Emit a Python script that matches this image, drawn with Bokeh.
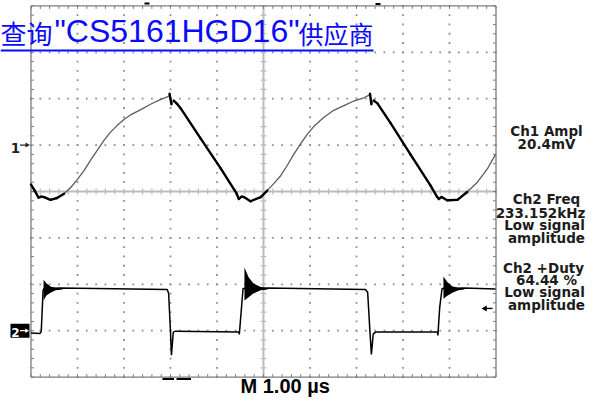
import numpy as np
from bokeh.plotting import figure
from bokeh.models import Range1d
from bokeh.core.properties import value
from bokeh.embed import file_html
from bokeh.resources import INLINE

# ---------------- data (time: µs from screen centre, amplitude: divisions) ----------------
ch1_t = [-5.00, -4.92, -4.84, -4.78, -4.72, -4.58, -4.44, -4.29, -4.15, -4.01,
         -3.86, -3.72, -3.58, -3.43, -3.29, -3.15, -3.00, -2.86, -2.65, -2.43,
         -2.22, -2.04, -2.02, -1.98, -1.93, -1.86, -1.78, -1.35, -0.92, -0.58,
         -0.53, -0.47, -0.42, -0.28, -0.06, 0.08, 0.22, 0.37, 0.51, 0.65,
         0.80, 0.94, 1.08, 1.30, 1.51, 1.73, 1.94, 2.16, 2.26, 2.29,
         2.32, 2.37, 2.45, 2.73, 3.16, 3.59, 3.73, 3.77, 3.83, 3.95,
         4.17, 4.38, 4.60, 4.81, 4.99]
ch1_v = [0.15, 0.02, -0.13, -0.11, -0.12, -0.18, -0.14, -0.05, 0.08, 0.25,
         0.45, 0.67, 0.88, 1.10, 1.28, 1.42, 1.55, 1.65, 1.76, 1.88,
         1.98, 2.05, 2.11, 1.88, 1.96, 1.89, 1.79, 1.14, 0.50, -0.04,
         -0.16, -0.11, -0.12, -0.21, -0.12, 0.02, 0.17, 0.34, 0.56, 0.80,
         1.03, 1.23, 1.40, 1.60, 1.75, 1.85, 1.95, 2.02, 2.07, 2.11,
         1.88, 1.96, 1.90, 1.48, 0.80, 0.13, -0.11, -0.16, -0.12, -0.19,
         -0.18, -0.01, 0.20, 0.48, 0.80]

ch2_t = [-5.00, -4.81, -4.78, -4.74, -4.72, -4.37, -2.07, -2.04, -2.00, -1.98,
         -1.94, -1.89, -0.53, -0.52, -0.44, 0.08, 2.19, 2.24, 2.29, 2.32,
         2.36, 2.41, 3.74, 3.75, 3.79, 3.84, 4.32, 4.99]
ch2_v = [-3.05, -3.06, -3.02, -2.13, -2.09, -2.08, -2.11, -2.20, -3.03, -3.53,
         -3.03, -3.01, -3.03, -3.08, -2.09, -2.08, -2.11, -2.17, -3.03, -3.51,
         -3.07, -3.03, -3.03, -3.10, -2.49, -2.09, -2.08, -2.10]

# ringing envelopes after each rising edge of Ch2
ring_t = [[-4.73, -4.67, -4.58, -4.47, -4.32],
          [-0.41, -0.32, -0.22, -0.06, 0.09],
          [3.87, 3.96, 4.06, 4.19, 4.32]]
ring_hi = [[-1.90, -1.98, -2.05, -2.08, -2.09],
           [-1.64, -1.85, -1.98, -2.06, -2.09],
           [-1.83, -1.96, -2.04, -2.08, -2.09]]
ring_lo = [[-2.35, -2.24, -2.18, -2.13, -2.11],
           [-2.35, -2.28, -2.20, -2.13, -2.11],
           [-2.31, -2.24, -2.18, -2.13, -2.11]]

ch1_ref = 1.0
ch2_ref = -3.0
trig_level = -2.52

meas_lines = ["Ch1 Ampl", "20.4mV",
              "Ch2 Freq", "233.152kHz", "Low signal", "amplitude",
              "Ch2 +Duty", "64.44 %", "Low signal", "amplitude"]
timebase_label = "M 1.00 \u00b5s"
title_parts = ["\u67e5\u8be2", "\"CS5161HGD16\"", "\u4f9b\u5e94\u5546"]

# ---------------- geometry helpers (picture pixel -> data) ----------------
PXX, PXY = 46.5, 46.4
CX, CY = 263.0, 191.0
W, H = 587, 397


def X(px):
    return (px - CX) / PXX


def Y(py):
    return (CY - py) / PXY


def B(py, size):
    # baseline position for a text of the given pixel size (renderer draws ~0.33em low)
    return Y(py - 0.33 * size)


p = figure(width=W, height=H, output_backend="svg", toolbar_location=None,
           x_range=Range1d(X(0), X(W)), y_range=Range1d(Y(H), Y(0)),
           min_border=0, x_axis_location=None, y_axis_location=None,
           background_fill_color="white", border_fill_color="white")
p.grid.visible = False
p.outline_line_color = None

# ---------------- graticule ----------------
gx = np.round(np.arange(-5, 5.0001, 0.2), 3)
gy = np.round(np.arange(-4, 4.0001, 0.2), 3)
tx, ty = 3.0 / PXX, 3.0 / PXY

dx, dy = [], []
for m in [-4, -3, -2, -1, 1, 2, 3, 4]:
    dx += [m] * len(gy)
    dy += list(gy)
for m in [-3, -2, -1, 1, 2, 3]:
    dx += list(gx)
    dy += [m] * len(gx)
p.scatter(dx, dy, marker="square", size=1.8, color="#8e8e8e", line_color=None)

cc = "#bcbcbc"
p.segment(x0=[-5, 0], y0=[0, -4], x1=[5, 0], y1=[0, 4], line_color=cc, line_width=2)
p.segment(x0=gx, y0=[-ty] * len(gx), x1=gx, y1=[ty] * len(gx), line_color=cc, line_width=1.2)
p.segment(x0=[-tx] * len(gy), y0=gy, x1=[tx] * len(gy), y1=gy, line_color=cc, line_width=1.2)

fc = "#7c7c7c"
p.segment(x0=[-5, 5, -5, -5], y0=[-4, -4, -4, 4], x1=[-5, 5, 5, 5], y1=[4, 4, -4, 4],
          line_color=fc, line_width=1.3)
n = len(gy)
p.segment(x0=[-5] * n, y0=gy, x1=[-5 + tx] * n, y1=gy, line_color=fc, line_width=1)
p.segment(x0=[5 - tx] * n, y0=gy, x1=[5] * n, y1=gy, line_color=fc, line_width=1)
m_ = len(gx)
p.segment(x0=gx, y0=[-4] * m_, x1=gx, y1=[-4 + ty] * m_, line_color=fc, line_width=1)
p.segment(x0=gx, y0=[4] * m_, x1=gx, y1=[4 - ty] * m_, line_color=fc, line_width=1)

# trigger-position marks on the top and bottom edges
p.segment(x0=[X(162), X(176), X(144), X(375)], y0=[Y(378.5), Y(378.5), Y(3), Y(3.5)],
          x1=[X(173.5), X(190.5), X(149), X(380)], y1=[Y(378.5), Y(378.5), Y(3), Y(3.5)],
          line_color="black", line_width=2.0)

# ---------------- traces ----------------
t1 = np.array(ch1_t)
v1 = np.array(ch1_v)
p.line(t1, v1, line_color="#5c5c5c", line_width=1.3)
dv = np.diff(v1)
thick = (dv < 0) | (np.minimum(v1[:-1], v1[1:]) < -0.1)
p.segment(x0=t1[:-1][thick], y0=v1[:-1][thick], x1=t1[1:][thick], y1=v1[1:][thick],
          line_color="black", line_width=2.4, line_cap="round")

p.line(ch2_t, ch2_v, line_color="black", line_width=1.5)
for rt, rh, rl in zip(ring_t, ring_hi, ring_lo):
    p.varea(x=rt, y1=rl, y2=rh, fill_color="black")

# ---------------- channel markers ----------------
p.text(x=[X(15)], y=[B(152, 13.5)], text=["1"], text_font=value("DejaVu Sans"),
       text_font_size="13.5px", text_font_style="bold", text_align="center",
       text_baseline="alphabetic", text_color="#222222")
p.segment(x0=[X(19.5)], y0=[ch1_ref], x1=[X(25.5)], y1=[ch1_ref], line_color="#222222", line_width=1.3)
p.scatter([X(26.5)], [ch1_ref], marker="triangle", angle=-np.pi / 2, size=5,
          color="#222222", line_color=None)

p.rect(x=[X(19.5)], y=[ch2_ref], width=19 / PXX, height=14 / PXY, fill_color="black", line_color=None)
p.text(x=[X(15)], y=[B(335.5, 12)], text=["2"], text_font=value("DejaVu Sans"),
       text_font_size="12px", text_font_style="bold", text_align="center",
       text_baseline="alphabetic", text_color="white")
p.segment(x0=[X(19.5)], y0=[ch2_ref], x1=[X(25)], y1=[ch2_ref], line_color="white", line_width=1.3)
p.scatter([X(26)], [ch2_ref], marker="triangle", angle=-np.pi / 2, size=4.5,
          color="white", line_color=None)

p.segment(x0=[X(485)], y0=[trig_level], x1=[X(492)], y1=[trig_level], line_color="black", line_width=1.3)
p.scatter([X(484.5)], [trig_level], marker="triangle", angle=np.pi / 2, size=6,
          color="black", line_color=None)

# ---------------- measurement readouts ----------------
base_px = [135, 147.5, 203, 216.5, 229, 241.5, 271.5, 283.5, 296, 308.5]
cx_px = [546, 546, 546, 540, 544, 546, 543, 546, 544, 546]
p.text(x=[X(c) for c in cx_px], y=[B(b, 13.5) for b in base_px], text=meas_lines,
       text_font=value("DejaVu Sans"), text_font_size="13.5px", text_font_style="bold",
       text_align="center", text_baseline="alphabetic", text_color="#1c1c1c")

# time base
p.text(x=[X(240)], y=[B(392.5, 20)], text=[timebase_label], text_font=value("Liberation Sans"),
       text_font_size="20px", text_font_style="bold", text_align="left",
       text_baseline="alphabetic", text_color="black")

# ---------------- title link overlay ----------------
blue = "#0a0aff"
p.text(x=[X(0)], y=[B(41, 26)], text=[title_parts[0]], text_font=value("Noto Sans CJK SC"),
       text_font_size="26px", text_align="left", text_baseline="alphabetic", text_color=blue)
p.text(x=[X(54)], y=[B(40.7, 32)], text=[title_parts[1]], text_font=value("Liberation Sans"),
       text_font_size="32px", text_align="left", text_baseline="alphabetic", text_color=blue)
p.text(x=[X(298)], y=[B(41, 25)], text=[title_parts[2]], text_font=value("Noto Sans CJK SC"),
       text_font_size="25px", text_align="left", text_baseline="alphabetic", text_color=blue)
p.segment(x0=[X(0)], y0=[Y(50)], x1=[X(373)], y1=[Y(50)], line_color=blue, line_width=2.2)

open("out.html", "w").write(file_html(p, INLINE))
